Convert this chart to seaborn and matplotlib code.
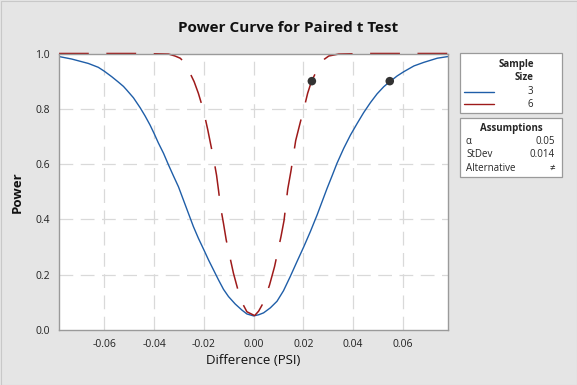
import pandas as pd
import matplotlib
matplotlib.use("Agg")
import matplotlib.pyplot as plt
from matplotlib.patches import Rectangle
from matplotlib.lines import Line2D
import seaborn as sns

# power curve for sample size 3
diff_n3 = [-0.0782, -0.0731, -0.0664, -0.0624, -0.0600, -0.0570, -0.0544, -0.0523,
           -0.0510, -0.0483, -0.0456, -0.0436, -0.0416, -0.0399, -0.0383, -0.0362,
           -0.0342, -0.0322, -0.0302, -0.0282, -0.0262, -0.0242, -0.0222, -0.0201,
           -0.0181, -0.0161, -0.0141, -0.0121, -0.0101, -0.0074, -0.0047, -0.0027,
           0.0000, 0.0020, 0.0040, 0.0067, 0.0094, 0.0120, 0.0147, 0.0174, 0.0201,
           0.0228, 0.0255, 0.0275, 0.0295, 0.0315, 0.0335, 0.0362, 0.0389, 0.0416,
           0.0442, 0.0469, 0.0496, 0.0523, 0.0547, 0.0577, 0.0603, 0.0644, 0.0684,
           0.0738, 0.0781]
power_n3 = [0.989, 0.980, 0.964, 0.950, 0.936, 0.916, 0.897, 0.881,
            0.868, 0.840, 0.804, 0.774, 0.741, 0.709, 0.677, 0.639,
            0.597, 0.557, 0.518, 0.470, 0.422, 0.374, 0.332, 0.292,
            0.253, 0.217, 0.181, 0.147, 0.121, 0.094, 0.072, 0.058,
            0.051, 0.055, 0.062, 0.080, 0.104, 0.142, 0.193, 0.247, 0.300,
            0.356, 0.416, 0.464, 0.512, 0.557, 0.603, 0.657, 0.705, 0.747,
            0.786, 0.822, 0.854, 0.880, 0.898, 0.919, 0.934, 0.955, 0.968,
            0.983, 0.989]

# power curve for sample size 6
diff_n6 = [-0.0782, -0.0600, -0.0450, -0.0342, -0.0316, -0.0295, -0.0278, -0.0255,
           -0.0239, -0.0222, -0.0202, -0.0184, -0.0172, -0.0161, -0.0149, -0.0141,
           -0.0133, -0.0121, -0.0110, -0.0098, -0.0081, -0.0063, -0.0047, -0.0027,
           0.0004, 0.0020, 0.0040, 0.0064, 0.0084, 0.0110, 0.0122, 0.0137, 0.0150,
           0.0169, 0.0188, 0.0202, 0.0217, 0.0232, 0.0248, 0.0268, 0.0285, 0.0302,
           0.0342, 0.0450, 0.0600, 0.0782]
power_n6 = [1.000, 1.000, 1.000, 0.998, 0.991, 0.983, 0.968, 0.928,
            0.898, 0.856, 0.796, 0.723, 0.669, 0.621, 0.560, 0.505,
            0.446, 0.385, 0.325, 0.275, 0.205, 0.145, 0.100, 0.066,
            0.052, 0.068, 0.100, 0.163, 0.229, 0.338, 0.395, 0.509, 0.575,
            0.685, 0.753, 0.800, 0.856, 0.898, 0.928, 0.962, 0.980, 0.991,
            0.998, 1.000, 1.000, 1.000]

# target power points
target_diff = [0.0234, 0.0547]
target_power = [0.90, 0.90]

x_ticks = [-0.06, -0.04, -0.02, 0.00, 0.02, 0.04, 0.06]
x_labels = ["-0.06", "-0.04", "-0.02", "0.00", "0.02", "0.04", "0.06"]
y_ticks = [0.0, 0.2, 0.4, 0.6, 0.8, 1.0]
y_labels = ["0.0", "0.2", "0.4", "0.6", "0.8", "1.0"]

sample_sizes = ["3", "6"]
assumptions = [("\u03b1", "0.05"), ("StDev", "0.014"), ("Alternative", "\u2260")]

BLUE = "#1f5ea8"
RED = "#9e1a1a"
GRID = "#d9d9d9"
BG = "#e5e5e5"

sns.set_style("white")
plt.rcParams["font.family"] = ["Open Sans", "DejaVu Sans"]

W, H = 577, 385
fig = plt.figure(figsize=(W / 100, H / 100), dpi=100, facecolor=BG)
ax = fig.add_axes([59 / W, 1 - 330 / H, (448 - 59) / W, (330 - 53.5) / H])
ax.set_facecolor("white")


def px(x, y):
    return x / W, 1 - y / H


# outer frame
fig.patches.append(Rectangle((0.5 / W, 0.5 / H), (W - 1) / W, (H - 1) / H,
                             transform=fig.transFigure, facecolor="none",
                             edgecolor="#c8c8c8", lw=0.8))

# gridlines
for t in x_ticks:
    ax.axvline(t, color=GRID, lw=0.9, linestyle=(0, (11, 6)), zorder=0)
for t in y_ticks[1:-1]:
    ax.axhline(t, color=GRID, lw=0.9, linestyle=(0, (11, 6)), zorder=0)

df3 = pd.DataFrame({"diff": diff_n3, "power": power_n3})
df6 = pd.DataFrame({"diff": diff_n6, "power": power_n6})
sns.lineplot(data=df3, x="diff", y="power", color=BLUE, lw=1.0, ax=ax)
sns.lineplot(data=df6, x="diff", y="power", color=RED, lw=1.1,
             linestyle=(0, (19.5, 11.5)), ax=ax, clip_on=False)
sns.scatterplot(x=target_diff, y=target_power, color="#333333", s=38,
                edgecolor="none", ax=ax, zorder=5)

ax.set_xlim(-0.0782, 0.0781)
ax.set_ylim(0, 1.0)
ax.set_xticks(x_ticks)
ax.set_xticklabels(x_labels)
ax.set_yticks(y_ticks)
ax.set_yticklabels(y_labels)
ax.tick_params(axis="both", labelsize=7.5, colors="#9a9a9a", labelcolor="#222222",
               length=3, width=0.8, direction="out")
for s in ax.spines.values():
    s.set_color("#9a9a9a")
    s.set_linewidth(1.0)

ax.set_xlabel("Difference (PSI)", fontsize=9.5, color="#111111", labelpad=3)
ax.set_ylabel("Power", fontsize=9.5, fontweight="bold", color="#111111", labelpad=8)

fig.text(0.5, 1 - 28 / H, "Power Curve for Paired t Test", ha="center", va="center",
         fontsize=11, fontweight="bold", color="#111111")

# legend box: sample size
x0, y0 = px(460, 113)
fig.patches.append(Rectangle((x0, y0), 102 / W, 60 / H, transform=fig.transFigure,
                             facecolor="white", edgecolor="#9a9a9a", lw=0.9))
fig.text(*px(516, 64), "Sample", ha="center", va="center", fontsize=7, fontweight="bold")
fig.text(*px(533, 78), "Size", ha="right", va="center", fontsize=7, fontweight="bold")
for i, (lab, col) in enumerate(zip(sample_sizes, [BLUE, RED])):
    yy = 91.5 + i * 12.8
    fig.lines.append(Line2D([464 / W, 494 / W], [1 - yy / H] * 2,
                            transform=fig.transFigure, color=col, lw=1.0))
    fig.text(*px(533, yy), lab, ha="right", va="center", fontsize=7)

# legend box: assumptions
x0, y0 = px(460, 177)
fig.patches.append(Rectangle((x0, y0), 102 / W, 59 / H, transform=fig.transFigure,
                             facecolor="white", edgecolor="#9a9a9a", lw=0.9))
fig.text(*px(511, 128), "Assumptions", ha="center", va="center", fontsize=7, fontweight="bold")
for i, (name, val) in enumerate(assumptions):
    yy = 141 + i * 13.8
    fig.text(*px(466, yy), name, ha="left", va="center", fontsize=7)
    fig.text(*px(555, yy), val, ha="right", va="center", fontsize=7)

fig.savefig("out.png", dpi=100, facecolor=BG)
